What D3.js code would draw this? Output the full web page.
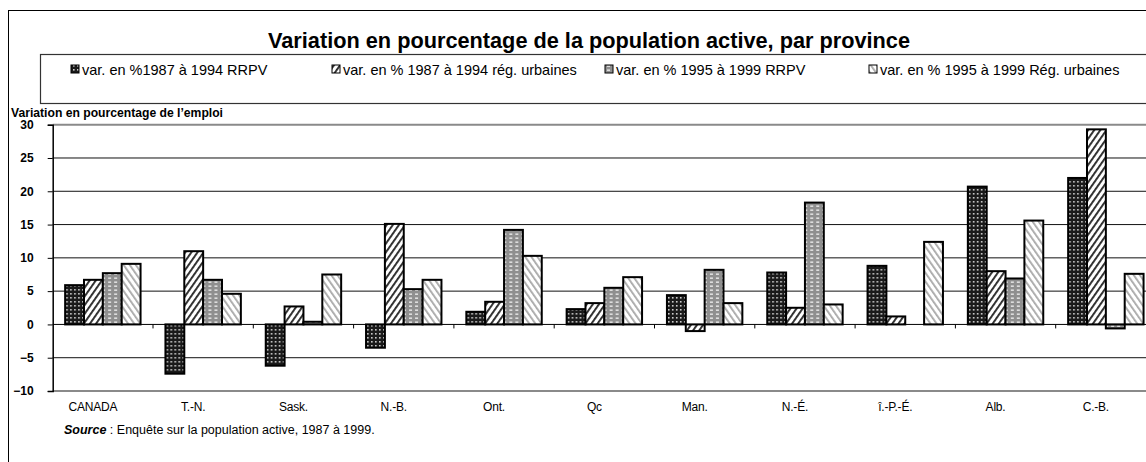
<!DOCTYPE html>
<html><head><meta charset="utf-8">
<script src="https://cdn.jsdelivr.net/npm/d3@7"></script>
<style>
html,body{margin:0;padding:0;background:#fff;}
svg{display:block;font-family:"Liberation Sans",Arial,sans-serif;}
</style></head>
<body>
<svg id="c" width="1146" height="462"></svg>
<script>
const categories = ["CANADA","T.-N.","Sask.","N.-B.","Ont.","Qc","Man.","N.-É.","î.-P.-É.","Alb.","C.-B."];
const seriesNames = ["var. en %1987 à 1994 RRPV","var. en % 1987 à 1994 rég. urbaines","var. en % 1995 à 1999 RRPV","var. en % 1995 à 1999 Rég. urbaines"];
const rrpv8794  = [5.9, -7.4, -6.2, -3.5, 1.9, 2.3, 4.4, 7.8, 8.8, 20.7, 22.0];
const urb8794   = [6.7, 11.0, 2.7, 15.1, 3.4, 3.2, -1.0, 2.5, 1.2, 8.0, 29.3];
const rrpv9599  = [7.7, 6.7, 0.4, 5.3, 14.2, 5.5, 8.2, 18.3, null, 6.9, -0.6];
const urb9599   = [9.1, 4.6, 7.5, 6.7, 10.3, 7.1, 3.2, 3.0, 12.4, 15.6, 7.6];
const yTicks = [-10,-5,0,5,10,15,20,25,30];
const titleText = "Variation en pourcentage de la population active, par province";
const yTitle = "Variation en pourcentage de l’emploi";
const sourceLabel = "Source";
const sourceText = " : Enquête sur la population active, 1987 à 1999.";

const series = [rrpv8794, urb8794, rrpv9599, urb9599];
const svg = d3.select("#c");

// patterns
const defs = svg.append("defs");
let p = defs.append("pattern").attr("id","p0").attr("patternUnits","userSpaceOnUse").attr("width",4).attr("height",4);
p.append("rect").attr("width",4).attr("height",4).attr("fill","#1a1a1a");
p.append("rect").attr("x",1).attr("y",1).attr("width",1.6).attr("height",1.6).attr("fill","#cfcfcf");
p = defs.append("pattern").attr("id","p1").attr("patternUnits","userSpaceOnUse").attr("width",5).attr("height",5).attr("patternTransform","rotate(35)");
p.append("rect").attr("width",5).attr("height",5).attr("fill","#fff");
p.append("rect").attr("x",0).attr("y",0).attr("width",1.9).attr("height",5).attr("fill","#2a2a2a");
p = defs.append("pattern").attr("id","p2").attr("patternUnits","userSpaceOnUse").attr("width",6).attr("height",4);
p.append("rect").attr("width",6).attr("height",4).attr("fill","#8f8f8f");
p.append("rect").attr("x",1).attr("y",1.5).attr("width",3).attr("height",1.3).attr("fill","#f0f0f0");
p = defs.append("pattern").attr("id","p3").attr("patternUnits","userSpaceOnUse").attr("width",5).attr("height",5).attr("patternTransform","rotate(-35)");
p.append("rect").attr("width",5).attr("height",5).attr("fill","#fff");
p.append("rect").attr("x",0).attr("y",0).attr("width",1.8).attr("height",5).attr("fill","#a8a8a8");

// outer frame
svg.append("rect").attr("x",8.5).attr("y",10.5).attr("width",1160).attr("height",480)
  .attr("fill","none").attr("stroke","#000").attr("stroke-width",1);

// title
svg.append("text").attr("x",268).attr("y",48).attr("font-size",22).attr("font-weight","bold")
  .attr("textLength",642).attr("lengthAdjust","spacingAndGlyphs").text(titleText);

// legend box
svg.append("rect").attr("x",40.5).attr("y",54.5).attr("width",1130).attr("height",49)
  .attr("fill","none").attr("stroke","#333").attr("stroke-width",1.2);
const legX = [71, 332, 605, 869];
const legG = svg.append("g");
seriesNames.forEach((n,i)=>{
  legG.append("rect").attr("x",legX[i]).attr("y",65).attr("width",8).attr("height",8)
    .attr("fill",`url(#p${i})`).attr("stroke","#000").attr("stroke-width",1);
  legG.append("text").attr("x",legX[i]+11).attr("y",74.5).attr("font-size",14.5).text(n);
});

// scales
const plotL = 52.7, catW = 100.3;
const x0 = d3.scaleBand().domain(categories).range([plotL, plotL + catW*categories.length]).paddingInner(0).paddingOuter(0);
const groupW = x0.bandwidth()/1.33;
const x1 = d3.scaleBand().domain(d3.range(series.length)).range([0, groupW]).padding(0);
const y = d3.scaleLinear().domain([-10,30]).range([391, 124.7]);

// y-axis title
svg.append("text").attr("x",11).attr("y",117).attr("font-size",12).attr("font-weight","bold")
  .attr("textLength",212).attr("lengthAdjust","spacingAndGlyphs").text(yTitle);

// gridlines
const grid = svg.append("g");
yTicks.forEach(t=>{
  const edge = (t===30 || t===-10);
  if (t===0) return;
  grid.append("line").attr("x1",plotL).attr("x2",1146).attr("y1",y(t)).attr("y2",y(t))
    .attr("stroke", edge ? "#8a8a8a" : "#111").attr("stroke-width", edge ? 2 : 1);
});

// y axis
const yAxis = d3.axisLeft(y).tickValues(yTicks).tickSize(5).tickPadding(14);
const ya = svg.append("g").attr("transform",`translate(${plotL},0)`).call(yAxis);
ya.select(".domain").attr("stroke","#000").attr("stroke-width",1.5);
ya.selectAll("text").attr("font-size",12).attr("font-weight","bold").attr("fill","#000")
  .attr("font-family","Liberation Sans, Arial, sans-serif");
ya.selectAll(".tick line").attr("stroke","#000");

// bars
const groups = svg.append("g").selectAll("g").data(categories).join("g")
  .attr("transform", d => `translate(${x0(d) + (x0.bandwidth()-groupW)/2},0)`);
groups.selectAll("rect").data((d,ci)=>series.map((s,si)=>({si, v:s[ci]})).filter(o=>o.v!==null))
  .join("rect")
  .attr("x", o => x1(o.si))
  .attr("width", x1.bandwidth())
  .attr("y", o => y(Math.max(0,o.v)))
  .attr("height", o => Math.abs(y(o.v)-y(0)))
  .attr("fill", o => `url(#p${o.si})`)
  .attr("stroke","#000").attr("stroke-width",2);

// x axis at zero
const xAxis = d3.axisBottom(x0).tickSize(0).tickFormat("");
const xa = svg.append("g").attr("transform",`translate(0,${y(0)})`).call(xAxis);
xa.select(".domain").attr("stroke","#000").attr("stroke-width",1).attr("d",`M${plotL},0H1146`);
xa.selectAll("line.bt").data(categories.slice(1)).join("line").attr("class","bt")
  .attr("x1",d=>x0(d)).attr("x2",d=>x0(d)).attr("y1",0).attr("y2",4).attr("stroke","#000");

// category labels
svg.append("g").selectAll("text").data(categories).join("text")
  .attr("x", d => x0(d) + x0.bandwidth()/2 - 10)
  .attr("y", 411).attr("text-anchor","middle").attr("font-size",12).attr("letter-spacing",-0.2)
  .text(d=>d);

// source
const src = svg.append("text").attr("x",64).attr("y",434).attr("font-size",12.5);
src.append("tspan").attr("font-weight","bold").attr("font-style","italic").text(sourceLabel);
src.append("tspan").text(sourceText);
</script>
</body></html>
